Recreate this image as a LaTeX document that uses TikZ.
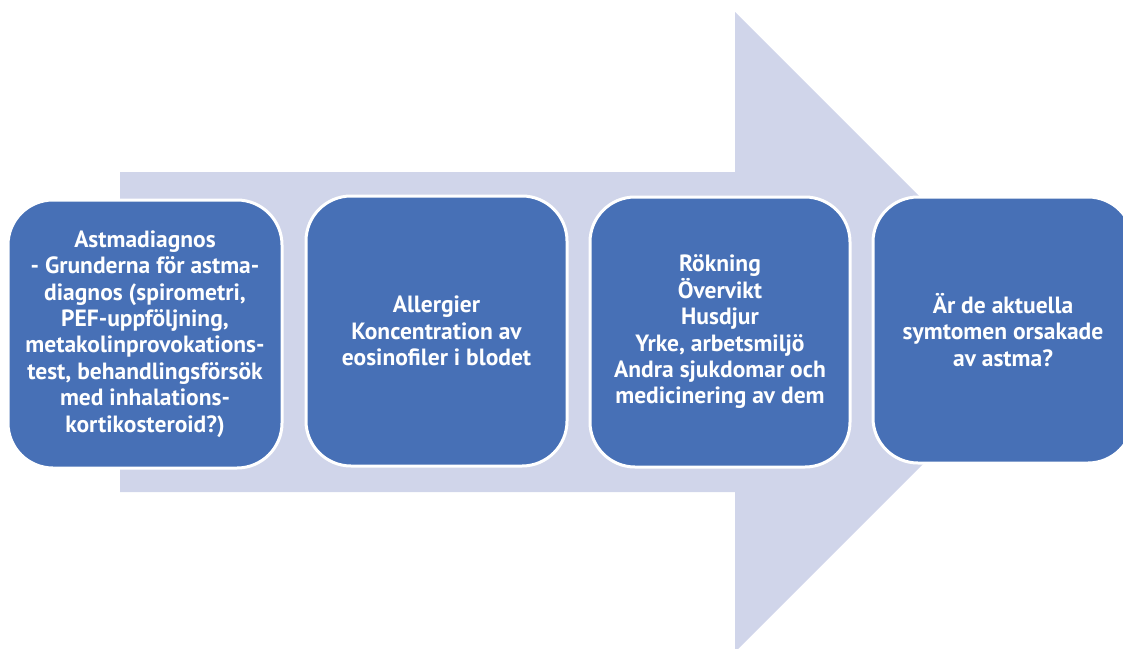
\documentclass[tikz,border=0pt]{standalone}
\usepackage{fontspec}
\setmainfont{PT Sans}
\usepackage{xcolor}
\definecolor{StepBlue}{HTML}{4770B6}
\definecolor{ArrowTint}{HTML}{D0D5EA}
\usepackage{tikz}
\usetikzlibrary{positioning}

\begin{document}
\begin{tikzpicture}[
    x=1pt, y=-1pt,
    stepbox/.style={draw=white, line width=3pt, fill=StepBlue, rounded corners=45pt,
        align=center, text=white, font=\fontsize{23.5}{26.4}\selectfont\bfseries,
        minimum width=260pt, minimum height=268pt, inner sep=0pt},
    bigarrow/.style={fill=ArrowTint}
]
\useasboundingbox (0,0) rectangle (1123,648);
% background arrow
\fill[bigarrow] (120,172) -- (735,172) -- (735,12) -- (1055,332)
    -- (735,652) -- (735,492) -- (120,492) -- cycle;
% the four steps
\node[stepbox, minimum width=274pt] (diag) at (145,334)
    {Astmadiagnos\\- Grunderna för astma-\\diagnos (spirometri,\\PEF-uppföljning,\\metakolinprovokations-\\test, behandlingsförsök\\med inhalations-\\kortikosteroid?)};
\node[stepbox, minimum width=261pt, minimum height=270pt] (allerg) at (436.5,331)
    {Allergier\\Koncentration av\\eosinofiler i blodet};
\node[stepbox, minimum height=270pt] (risk) at (720,332)
    {Rökning\\Övervikt\\Husdjur\\Yrke, arbetsmiljö\\Andra sjukdomar och\\medicinering av dem};
\node[stepbox, minimum height=266pt] (orsak) at (1003,330)
    {Är de aktuella\\symtomen orsakade\\av astma?};
\end{tikzpicture}
\end{document}
